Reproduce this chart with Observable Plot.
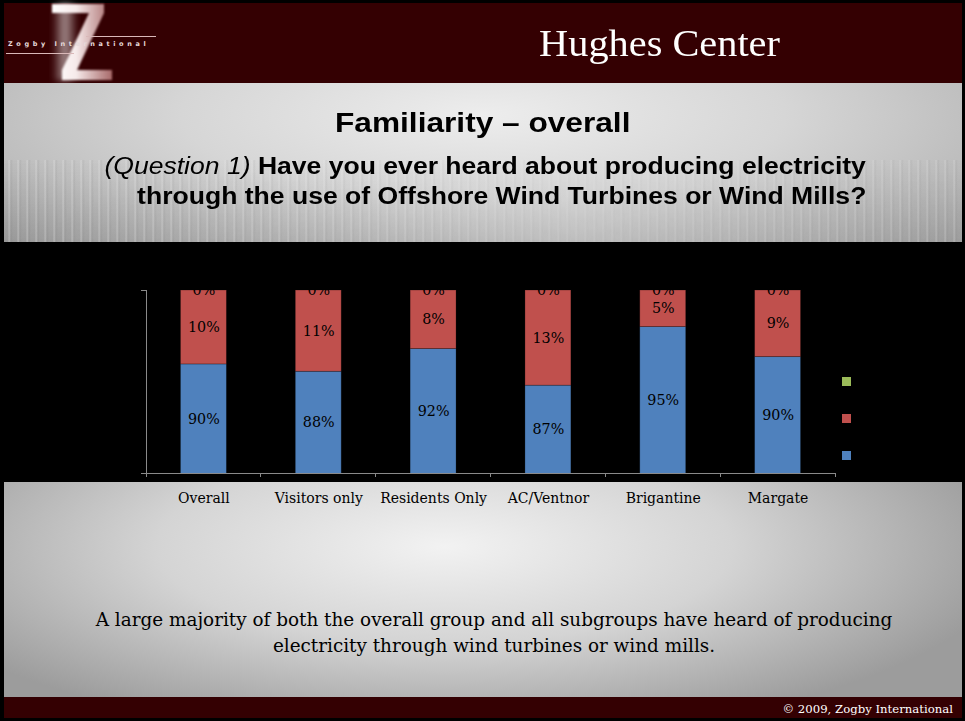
<!DOCTYPE html>
<html>
<head>
<meta charset="utf-8">
<script src="https://cdn.jsdelivr.net/npm/d3@7"></script>
<script src="https://cdn.jsdelivr.net/npm/@observablehq/plot@0.6"></script>
<style>
  html, body { margin: 0; padding: 0; background: #000; }
  #slide { position: relative; width: 965px; height: 721px; background: #000; overflow: hidden; }
  .abs { position: absolute; }
  #header { left: 4px; top: 3px; width: 958px; height: 80px; background: #340002; }
  #photo { left: 4px; top: 83px; width: 958px; height: 159px;
    background: radial-gradient(ellipse 70% 120% at 50% 20%, #ededed 0%, #d6d6d6 45%, #a9a9a9 100%);
  }
  #photoShade { left: 4px; top: 160px; width: 958px; height: 82px;
    background:
      repeating-linear-gradient(90deg, rgba(255,255,255,0) 0px, rgba(255,255,255,0) 4px, rgba(255,255,255,0.28) 5px, rgba(90,90,90,0.10) 7px, rgba(255,255,255,0) 9px),
      linear-gradient(180deg, rgba(0,0,0,0) 0%, rgba(70,70,70,0.18) 100%);
    -webkit-mask-image: linear-gradient(90deg, #000 0%, rgba(0,0,0,0.7) 35%, rgba(0,0,0,0.25) 60%, rgba(0,0,0,0.8) 100%);
    mask-image: linear-gradient(90deg, #000 0%, rgba(0,0,0,0.7) 35%, rgba(0,0,0,0.25) 60%, rgba(0,0,0,0.8) 100%);
  }
  #band { left: 4px; top: 242px; width: 958px; height: 240px; background: #000; }
  #lower { left: 4px; top: 482px; width: 958px; height: 215px;
    background: radial-gradient(ellipse 60% 90% at 46% 30%, #f2f2f2 0%, #d4d4d4 50%, #9c9c9c 100%); }
  #footer { left: 4px; top: 697px; width: 958px; height: 21px; background: #340002; }
  #hughes { right: 185px; top: 22px; font-family: "Liberation Serif", serif; font-size: 37px; line-height: 44px;
    color: #fff; white-space: nowrap; transform: scaleX(1.09); transform-origin: right center; }
  #title { left: 0; width: 965px; top: 106px; text-align: center; font-family: "Liberation Sans", Arial, sans-serif;
    font-weight: bold; font-size: 28px; line-height: 34px; color: #000; }
  #title span { display: inline-block; transform: scaleX(1.13); }
  .sub { right: 99px; font-family: "Liberation Sans", Arial, sans-serif; font-size: 23.5px; line-height: 30px;
    color: #000; white-space: nowrap; transform: scaleX(1.13); transform-origin: right center; text-align: right; }
  .sub b { font-weight: bold; }
  .sub i { font-style: italic; font-weight: normal; }
  #note { left: 0; width: 988px; top: 607px; text-align: center; font-family: "DejaVu Serif", serif;
    font-size: 18.4px; line-height: 26px; color: #000; }
  #copy { right: 12px; top: 701px; font-family: "DejaVu Serif", serif; font-size: 11.7px; line-height: 16px; color: #fff; white-space: nowrap; }
  #chart { left: 0; top: 242px; }
  #legend { left: 842px; top: 377px; }
  .sw { width: 9px; height: 9px; margin-bottom: 28px; }
</style>
</head>
<body>
<div id="slide">
  <div id="header" class="abs"></div>
  <svg class="abs" style="left:0;top:0" width="170" height="83">
    <defs>
      <linearGradient id="zg" x1="0" x2="1" y1="0" y2="0">
        <stop offset="0" stop-color="#ffffff"/>
        <stop offset="0.4" stop-color="#f6eaea"/>
        <stop offset="1" stop-color="#a86a6a"/>
      </linearGradient>
      <linearGradient id="glow" x1="0" x2="1" y1="0" y2="0">
        <stop offset="0" stop-color="#ffffff" stop-opacity="0"/>
        <stop offset="0.5" stop-color="#ffffff" stop-opacity="0.55"/>
        <stop offset="1" stop-color="#ffffff" stop-opacity="0"/>
      </linearGradient>
      <filter id="blur"><feGaussianBlur stdDeviation="1.3"/></filter>
      <filter id="blur2"><feGaussianBlur stdDeviation="3"/></filter>
    </defs>
    <rect x="52" y="3" width="26" height="78" fill="url(#glow)" filter="url(#blur2)"/>
    <polygon points="52,4 104,4 104,13 77,70 112,70 112,80 62,80 62,70 89,13 52,13" fill="url(#zg)" filter="url(#blur)"/>
    <line x1="86" x2="156" y1="36.5" y2="36.5" stroke="#d9b8b8" stroke-width="1"/>
    <line x1="6" x2="74" y1="53.5" y2="53.5" stroke="#d9b8b8" stroke-width="1"/>
    <text x="8" y="46" font-family="DejaVu Sans, sans-serif" font-weight="bold" font-size="6.5" letter-spacing="3.6" fill="#e6dada">Zogby International</text>
  </svg>
  <div id="hughes" class="abs">Hughes Center</div>
  <div id="photo" class="abs"></div>
  <div id="photoShade" class="abs"></div>
  <div id="title" class="abs"><span>Familiarity – overall</span></div>
  <div class="abs sub" style="top:151px"><i>(Question 1)</i> <b>Have you ever heard about producing electricity</b></div>
  <div class="abs sub" style="top:181px"><b>through the use of Offshore Wind Turbines or Wind Mills?</b></div>
  <div id="band" class="abs"></div>
  <div id="lower" class="abs"></div>
  <div id="footer" class="abs"></div>
  <div id="chart" class="abs"></div>
  <div id="legend" class="abs"></div>
  <div id="note" class="abs">A large majority of both the overall group and all subgroups have heard of producing<br>electricity through wind turbines or wind mills.</div>
  <div id="copy" class="abs">© 2009, Zogby International</div>
</div>
<script>
// ---- data ----
const groups = ["Overall", "Visitors only", "Residents Only", "AC/Ventnor", "Brigantine", "Margate"];
const seriesNames = ["Heard", "Not heard", "Not sure"];
const seriesColors = ["#4F81BD", "#C0504D", "#9BBB59"];
const heard = [89.9, 88.9, 92.0, 87.0, 95.0, 90.9];
const notHeard = [10.1, 11.1, 8.0, 13.0, 5.0, 9.1];
const notSure = [0, 0, 0, 0, 0, 0];
const heardLabels = ["90%", "88%", "92%", "87%", "95%", "90%"];
const notHeardLabels = ["10%", "11%", "8%", "13%", "5%", "9%"];
const notSureLabels = ["0%", "0%", "0%", "0%", "0%", "0%"];
const yTicks = [75, 100];

// ---- table ----
const seriesValues = [heard, notHeard, notSure];
const seriesLabels = [heardLabels, notHeardLabels, notSureLabels];
const yMin = yTicks[0], yMax = yTicks[yTicks.length - 1];
const table = [];
groups.forEach((g, i) => {
  let lo = 0;
  seriesNames.forEach((s, j) => {
    const v = seriesValues[j][i];
    const hi = lo + v;
    table.push({
      group: g, series: s, value: v, label: seriesLabels[j][i],
      labelY: (Math.max(lo, yMin) + Math.min(hi, yMax)) / 2
    });
    lo = hi;
  });
});

// axis lines & category boundary ticks drawn from the plot's own scales
function axes(index, scales) {
  const x = scales.x, y = scales.y;
  const g = d3.create("svg:g").attr("stroke", "#8a8a8a").attr("stroke-width", 1).attr("fill", "none")
    .attr("shape-rendering", "crispEdges");
  const off = (x.step() - x.bandwidth()) / 2;
  const x0 = x.range()[0];
  const bounds = groups.map(c => x(c) - off).concat([x(groups[groups.length - 1]) + x.bandwidth() + off]);
  const yb = y(yMin), yt = y(yMax);
  g.append("line").attr("x1", x0).attr("x2", x0).attr("y1", yt).attr("y2", yb);
  yTicks.forEach(t => g.append("line").attr("x1", x0 - 5).attr("x2", x0).attr("y1", y(t)).attr("y2", y(t)));
  g.append("line").attr("x1", x0).attr("x2", bounds[bounds.length - 1]).attr("y1", yb).attr("y2", yb);
  bounds.forEach(b => g.append("line").attr("x1", b).attr("x2", b).attr("y1", yb).attr("y2", yb + 4));
  return g.node();
}

const chart = Plot.plot({
  width: 965,
  height: 273,
  marginTop: 48,
  marginBottom: 42,
  marginLeft: 146,
  marginRight: 130,
  style: { background: "transparent", color: "black", fontFamily: "DejaVu Serif", fontSize: "14px", overflow: "visible" },
  x: { domain: groups, paddingInner: 0.6, paddingOuter: 0.3, round: false, tickSize: 0, tickPadding: 20, label: null },
  y: { domain: [yMin, yMax], axis: null },
  color: { domain: seriesNames, range: seriesColors },
  marks: [
    Plot.barY(table, Plot.stackY({
      x: "group", y: "value", fill: "series", order: seriesNames,
      stroke: "black", strokeOpacity: 0.3, strokeWidth: 0.8, clip: true
    })),
    Plot.text(table, {
      x: "group", y: "labelY", text: "label", clip: true,
      fill: "black", fontSize: 14.3, fontFamily: "DejaVu Serif"
    }),
    axes
  ]
});
document.getElementById("chart").appendChild(chart);

// legend swatches (top to bottom: reversed stacking order)
const legend = d3.select("#legend");
seriesNames.slice().reverse().forEach(s => {
  legend.append("div").attr("class", "sw").style("background", seriesColors[seriesNames.indexOf(s)]);
});
</script>
</body>
</html>
